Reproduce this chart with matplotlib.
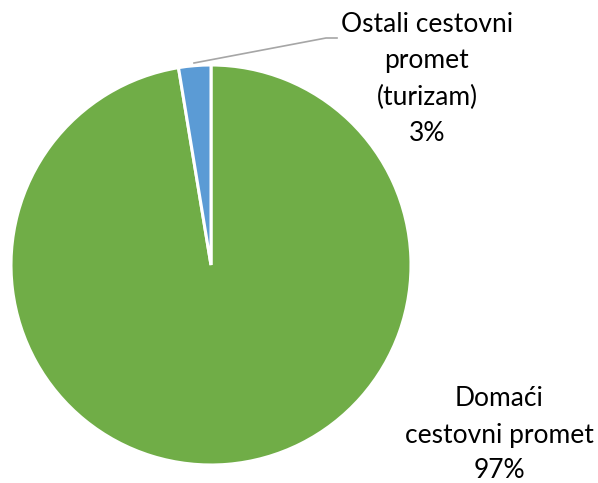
import matplotlib.pyplot as plt

labels = ['Domaći\ncestovni promet', 'Ostali cestovni\npromet\n(turizam)']
values = [97.4, 2.6]
pct_labels = ['97%', '3%']
colors = ['#70AD47', '#5B9BD5']

fig = plt.figure(figsize=(5.98, 4.83), dpi=100)
ax = fig.add_axes([11 / 598, 18 / 483, 400 / 598, 400 / 483])

wedges, _ = ax.pie(values, colors=colors, startangle=90, counterclock=False,
                   radius=1, wedgeprops=dict(edgecolor='white', linewidth=2.2))
ax.set_xlim(-1, 1)
ax.set_ylim(-1, 1)
ax.set_aspect('equal')
ax.axis('off')

font = 'Lato'
fs = 19

# labels in figure pixel coordinates (from top-left)
def fx(px):
    return px / 598

def fy(py):
    return 1 - py / 483

fig.text(fx(427), fy(79), labels[1] + '\n' + pct_labels[1], ha='center', va='center',
         fontsize=fs, family=font, linespacing=1.58, color='#000000')
fig.text(fx(499), fy(435), labels[0] + '\n' + pct_labels[0], ha='center', va='center',
         fontsize=fs, family=font, linespacing=1.55, color='#000000')

# leader line
fig.add_artist(plt.Line2D([fx(194), fx(326), fx(337)], [fy(63), fy(38), fy(38)],
                          color='#A6A6A6', linewidth=1.2))

fig.savefig('out.png', dpi=100)
